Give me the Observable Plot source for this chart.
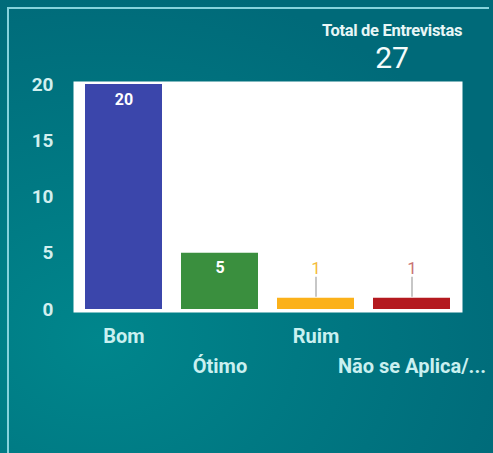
<!DOCTYPE html>
<html>
<head>
<meta charset="utf-8">
<script src="https://cdn.jsdelivr.net/npm/d3@7"></script>
<script src="https://cdn.jsdelivr.net/npm/@observablehq/plot@0.6"></script>
<style>
  html, body { margin: 0; padding: 0; }
  body {
    width: 493px; height: 453px; overflow: hidden; position: relative;
    background: radial-gradient(ellipse 90% 80% at 20% 75%, #00868c 0%, #007983 45%, #006a79 100%);
    font-family: Roboto, "Noto Sans", sans-serif;
  }
  #card {
    position: absolute; left: 7px; top: 7px; width: 482px; height: 460px;
    border-top: 2px solid #86d3dc; border-left: 2px solid #86d3dc; box-sizing: border-box;
  }
  #total-label {
    position: absolute; left: 392px; top: 21px; transform: translateX(-50%);
    font-size: 16.5px; font-weight: bold; color: #e8f6f6; white-space: nowrap; letter-spacing: -0.3px;
  }
  #total-value {
    position: absolute; left: 392px; top: 40px; transform: translateX(-50%);
    font-size: 30px; color: #f4fbfb; white-space: nowrap;
  }
  #chart { position: absolute; left: 0; top: 0; }
</style>
</head>
<body>
<div id="card"></div>
<div id="total-label"></div>
<div id="total-value"></div>
<div id="chart"></div>
<script>
const categories = ["Bom", "Ótimo", "Ruim", "Não se Aplica/..."];
const values = [20, 5, 1, 1];
const colors = ["#3b46ab", "#3a8f3e", "#fbb11a", "#b4191f"];
const labelColors = ["#ffffff", "#ffffff", "#f4bb3c", "#c97474"];
const yTicks = [0, 5, 10, 15, 20];
const totalTitle = "Total de Entrevistas";

const data = categories.map((c, i) => ({cat: c, v: values[i], color: colors[i], lc: labelColors[i]}));
document.getElementById("total-label").textContent = totalTitle;
document.getElementById("total-value").textContent = d3.sum(values);

const inside = data.filter(d => d.v >= 3);
const outside = data.filter(d => d.v < 3);

const plot = Plot.plot({
  width: 493,
  height: 453,
  marginTop: 84,
  marginBottom: 144,
  marginLeft: 73,
  marginRight: 31,
  style: {background: "transparent", fontFamily: "Roboto, sans-serif", overflow: "visible"},
  x: {domain: categories, paddingInner: 0.2, paddingOuter: 0.115},
  y: {domain: [0, 20]},
  marks: [
    Plot.frame({fill: "white", stroke: null, insetTop: -3, insetBottom: -3}),
    Plot.barY(data, {x: "cat", y: "v", fill: "color"}),
    Plot.text(inside, {x: "cat", y: "v", text: d => String(d.v), dy: 15, fill: "lc", fontSize: 16, fontWeight: "bold"}),
    Plot.ruleX(outside, {x: "cat", y1: "v", y2: "v", insetTop: -21, insetBottom: 1, stroke: "#b5b5b5", strokeWidth: 1.5}),
    Plot.text(outside, {x: "cat", y: "v", text: d => String(d.v), dy: -30, fill: "lc", fontSize: 17}),
    Plot.axisY(yTicks, {tickSize: 0, tickPadding: 20, fontSize: 19, fontWeight: "bold", fill: "#d2efef", label: null}),
    Plot.axisX([categories[0], categories[2]], {tickSize: 0, tickPadding: 19, fontSize: 20, fontWeight: "bold", fill: "#caf0f0", label: null}),
    Plot.axisX([categories[1], categories[3]], {tickSize: 0, tickPadding: 49, fontSize: 20, fontWeight: "bold", fill: "#caf0f0", label: null})
  ]
});
document.getElementById("chart").appendChild(plot);
</script>
</body>
</html>
